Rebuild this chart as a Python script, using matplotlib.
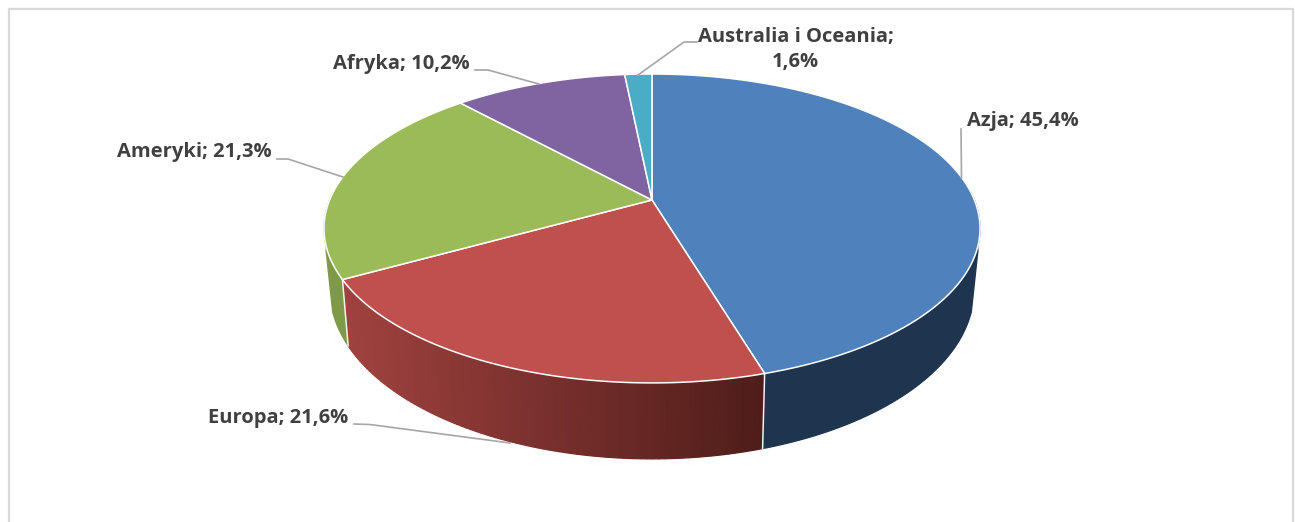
"""
World population by continent, 3D pie with perspective drawn by hand.
"""

import numpy as np
import matplotlib
matplotlib.use('Agg')
import matplotlib.pyplot as plt
from matplotlib.colors import to_rgb

# data
continents = ['Azja', 'Europa', 'Ameryki', 'Afryka', 'Australia i Oceania']
shares = [45.4, 21.6, 21.3, 10.2, 1.6]

# styles
top_colors = ['#4F81BD', '#C0504D', '#9BBB59', '#8064A2', '#4BACC6']
wall_colors = ['#1E344F', None, '#7E9A49', '#5F4A7A', '#37808F']
red_left, red_right = '#A0423F', '#4F1D19'
text_color = '#404040'
leader_color = '#A6A6A6'
frame_color = '#D9D9D9'

# projection of the tilted disc, in pixels
apex_x, apex_y = 652, 200
persp = 0.1843
top_c, top_a = 322.4, 149.2
base_c, base_a, base_y = 316.5, 163.2, 258.8


def top_rim(theta):
    u, v = np.sin(theta), np.cos(theta)
    w = 1 + persp * v
    return apex_x + top_c * u / w, apex_y - top_a * v / w


def base_rim(theta):
    u, v = np.sin(theta), np.cos(theta)
    w = 1 + persp * v
    x = base_c * u / w
    y = base_y - base_a * v / w
    # the wall runs nearly straight up where it meets the top face
    side = np.sign(u) * (319 + (315 - y) * 0.108)
    return apex_x + np.where(v > -0.32, side, x), y


def wall_patch(ax, t0, t1, color, zorder=2):
    t = np.linspace(t0, t1, max(int(np.degrees(t1 - t0)), 2) + 1)
    xt, yt = top_rim(t)
    xb, yb = base_rim(t)
    ax.fill(np.r_[xt, xb[::-1]], np.r_[yt, yb[::-1]], color=color, lw=0.9, zorder=zorder)


fig = plt.figure(figsize=(12.95, 5.22), dpi=100)
ax = fig.add_axes([0, 0, 1, 1])
ax.set_xlim(0, 1295)
ax.set_ylim(522, 0)
ax.axis('off')

# frame, the bottom edge is cut off in the source
ax.plot([9, 9, 1293, 1293], [522, 9, 9, 522], color=frame_color, lw=1.6, zorder=1)

edges = 2 * np.pi * np.r_[0, np.cumsum(shares)] / np.sum(shares)

# side walls, only the front part can be seen
front0, front1 = np.radians(87), np.radians(273)
for i in range(len(shares)):
    t0, t1 = max(edges[i], front0), min(edges[i + 1], front1)
    if t1 <= t0:
        continue
    if wall_colors[i] is not None:
        wall_patch(ax, t0, t1, wall_colors[i])
    else:
        # europe wall has a horizontal gradient
        steps = np.linspace(t0, t1, 90)
        xs = base_rim(steps)[0]
        c_l, c_r = np.array(to_rgb(red_left)), np.array(to_rgb(red_right))
        for j in range(len(steps) - 1):
            f = (xs[j] - xs.min()) / (xs.max() - xs.min())
            wall_patch(ax, steps[j], steps[j + 1], tuple(c_l + (c_r - c_l) * f))

# light dividers between the walls
for e in edges[1:3]:
    xt, yt = top_rim(e)
    xb, yb = base_rim(e)
    ax.plot([xt, xb], [yt, yb], color='#F2F2F2', lw=1.1, zorder=3)

# top face
for i, color in enumerate(top_colors):
    t = np.linspace(edges[i], edges[i + 1], max(int(np.degrees(edges[i + 1] - edges[i])) * 2, 4))
    x, y = top_rim(t)
    ax.fill(np.r_[apex_x, x], np.r_[apex_y, y], facecolor=color, edgecolor='white',
            lw=1.1, joinstyle='round', zorder=4)

# leader lines
leaders = [
    ([961, 961.5], [129, 178]),
    ([354, 370, 510], [424, 424.5, 443]),
    ([277, 288, 343], [159, 159, 177]),
    ([475, 488, 539], [70, 70, 84]),
    ([697, 684, 638], [42, 42, 75]),
]
for lx, ly in leaders:
    ax.plot(lx, ly, color=leader_color, lw=1.2, zorder=5)

# data labels
fmt = [f"{c}; {str(s).replace('.', ',')}%" for c, s in zip(continents, shares)]
fmt[4] = fmt[4].replace('; ', ';\n')
label_pos = [(1022.5, 121), (278, 418), (194.5, 152), (401.5, 64), (795.5, 49.5)]
for txt, (tx, ty) in zip(fmt, label_pos):
    ax.text(tx, ty, txt, ha='center', va='center', family='Open Sans', weight='bold',
            fontsize=14.5, color=text_color, linespacing=1.4, zorder=6)

fig.savefig('out.png', dpi=100)
